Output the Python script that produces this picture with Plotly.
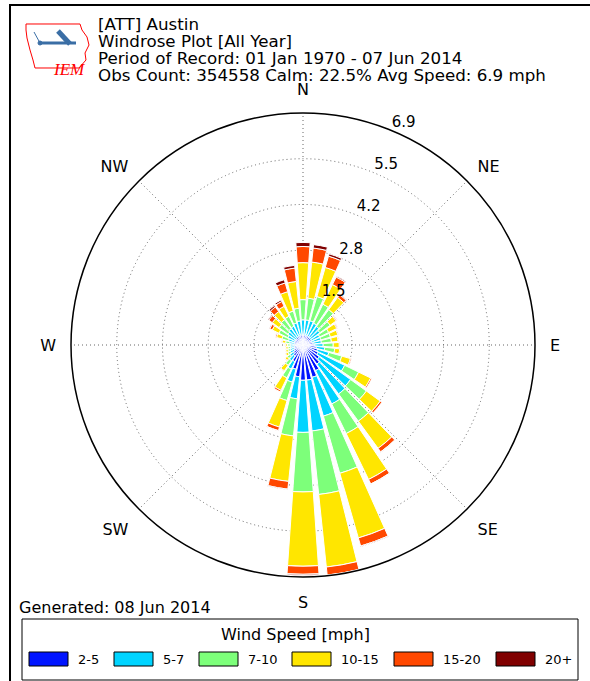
import plotly.graph_objects as go

# ---------------- data ----------------
directions = [0, 10, 20, 30, 40, 50, 60, 70, 80, 90, 100, 110, 120, 130, 140, 150, 160, 170,
              180, 190, 200, 210, 220, 230, 240, 250, 260, 270, 280, 290, 300, 310, 320, 330, 340, 350]

speed_bins = ["2-5", "5-7", "7-10", "10-15", "15-20", "20+"]
bin_colors = ["#0014ff", "#00d4ff", "#7dff7a", "#ffe600", "#ff4800", "#800000"]

# percent frequency per direction for each speed bin (stacked)
pct_2_5 = [0.30, 0.30, 0.30, 0.30, 0.30, 0.28, 0.28, 0.28, 0.30, 0.35, 0.40, 0.45, 0.50, 0.60, 0.70, 0.85, 1.00, 1.05,
           1.05, 0.95, 0.75, 0.55, 0.40, 0.35, 0.30, 0.28, 0.26, 0.26, 0.26, 0.26, 0.26, 0.26, 0.28, 0.28, 0.30, 0.30]
pct_5_7 = [0.45, 0.45, 0.45, 0.42, 0.38, 0.34, 0.27, 0.27, 0.25, 0.25, 0.25, 0.35, 0.88, 1.15, 1.10, 1.10, 1.20, 1.52,
           1.55, 0.66, 0.40, 0.25, 0.18, 0.13, 0.12, 0.12, 0.12, 0.12, 0.14, 0.19, 0.24, 0.29, 0.32, 0.34, 0.38, 0.42]
pct_7_10 = [0.60, 0.65, 0.75, 0.63, 0.62, 0.38, 0.30, 0.30, 0.30, 0.30, 0.30, 0.40, 0.46, 0.58, 1.00, 0.98, 1.77, 1.90,
            1.77, 1.11, 0.57, 0.29, 0.17, 0.10, 0.08, 0.07, 0.07, 0.08, 0.12, 0.20, 0.30, 0.33, 0.33, 0.33, 0.37, 0.38]
pct_10_15 = [1.10, 1.08, 0.90, 0.65, 0.45, 0.22, 0.27, 0.23, 0.20, 0.18, 0.15, 0.27, 0.40, 0.51, 1.00, 1.52, 2.00, 2.17,
             2.21, 1.36, 0.82, 0.41, 0.20, 0.08, 0.08, 0.07, 0.07, 0.07, 0.10, 0.17, 0.22, 0.25, 0.30, 0.33, 0.60, 0.80]
pct_15_20 = [0.48, 0.42, 0.35, 0.25, 0.10, 0.03, 0.03, 0.02, 0.02, 0.02, 0.02, 0.03, 0.04, 0.06, 0.13, 0.15, 0.25, 0.24,
             0.24, 0.23, 0.11, 0.05, 0.02, 0.01, 0.01, 0.01, 0.01, 0.01, 0.02, 0.04, 0.08, 0.13, 0.17, 0.16, 0.27, 0.40]
pct_20p = [0.12, 0.10, 0.07, 0.03, 0.02, 0.01, 0.01, 0.00, 0.00, 0.00, 0.00, 0.00, 0.00, 0.00, 0.01, 0.01, 0.02, 0.02,
           0.03, 0.02, 0.01, 0.00, 0.00, 0.00, 0.00, 0.00, 0.00, 0.00, 0.00, 0.01, 0.02, 0.03, 0.05, 0.05, 0.10, 0.08]

series = [pct_2_5, pct_5_7, pct_7_10, pct_10_15, pct_15_20, pct_20p]

radial_ticks = [1.46, 2.82, 4.18, 5.54, 6.9]
radial_labels = ["1.5", "2.8", "4.2", "5.5", "6.9"]
radial_label_bearing = 22.5
compass_angles = [0, 45, 90, 135, 180, 225, 270, 315]
compass_labels = ["N", "NE", "E", "SE", "S", "SW", "W", "NW"]

title_lines = ["[ATT] Austin",
               "Windrose Plot [All Year]",
               "Period of Record: 01 Jan 1970 - 07 Jun 2014",
               "Obs Count: 354558 Calm: 22.5% Avg Speed: 6.9 mph"]
generated_text = "Generated: 08 Jun 2014"
legend_title = "Wind Speed [mph]"

# ---------------- layout helpers ----------------
W, H = 590, 681
FONT = "DejaVu Sans"


def px(x):
    return x / W


def py(y):
    return 1 - y / H


fig = go.Figure()
for name, vals, col in zip(speed_bins, series, bin_colors):
    fig.add_trace(go.Barpolar(
        r=vals, theta=directions, name=name, width=8, showlegend=False,
        marker=dict(color=col, line=dict(color="white", width=1)),
    ))

# radial labels, anchored bottom-left at each ring (matplotlib style)
fig.add_trace(go.Scatterpolar(
    r=radial_ticks, theta=[radial_label_bearing] * len(radial_ticks), text=radial_labels,
    mode="text", textposition="top right", showlegend=False, hoverinfo="skip",
    textfont=dict(size=15, family=FONT, color="black"), cliponaxis=False,
))

fig.update_layout(
    width=W, height=H,
    margin=dict(l=0, r=0, t=0, b=0),
    paper_bgcolor="white",
    font=dict(family=FONT, size=15, color="black"),
    showlegend=False,
    polar=dict(
        domain=dict(x=[px(71), px(535)], y=[py(577), py(113)]),
        bgcolor="white",
        barmode="stack",
        bargap=0,
        angularaxis=dict(
            rotation=90, direction="clockwise",
            tickmode="array", tickvals=compass_angles, ticktext=compass_labels,
            ticks="outside", ticklen=11, tickcolor="rgba(0,0,0,0)",
            showline=True, linecolor="black", linewidth=1.5,
            showgrid=True, gridcolor="#666666", gridwidth=1, griddash="1px,3px",
            tickfont=dict(size=16, family=FONT),
            layer="above traces",
        ),
        radialaxis=dict(
            range=[0, 6.9],
            tickmode="array", tickvals=radial_ticks,
            showline=False, ticks="", showticklabels=False,
            showgrid=True, gridcolor="#666666", gridwidth=1, griddash="1px,3px",
            layer="above traces",
        ),
    ),
)

# title lines
for i, line in enumerate(title_lines):
    fig.add_annotation(x=px(97), y=py(23.5 + 17.3 * i), xref="paper", yref="paper",
                       text=line, showarrow=False, xanchor="left", yanchor="middle", borderpad=0,
                       font=dict(size=16.7, family=FONT))

fig.add_annotation(x=px(17), y=py(607), xref="paper", yref="paper", text=generated_text,
                   showarrow=False, xanchor="left", yanchor="middle", font=dict(size=16, family=FONT))

# outer frame
fig.add_shape(type="rect", xref="paper", yref="paper", x0=px(10), y0=py(5), x1=1.02, y1=-0.02,
              line=dict(color="black", width=2), fillcolor="rgba(0,0,0,0)", layer="above")

# ---------------- legend (drawn box, swatches and labels) ----------------
fig.add_shape(type="rect", xref="paper", yref="paper", x0=px(22), y0=py(619), x1=px(578), y1=py(680),
              line=dict(color="black", width=1), fillcolor="white")
fig.add_annotation(x=0.5, y=py(634), xref="paper", yref="paper", text=legend_title, showarrow=False,
                   xanchor="center", yanchor="middle", font=dict(size=16, family=FONT))
swatch_left = [29, 114, 199, 292, 394, 496]
for name, col, x0 in zip(speed_bins, bin_colors, swatch_left):
    fig.add_shape(type="rect", xref="paper", yref="paper", x0=px(x0), y0=py(666), x1=px(x0 + 39), y1=py(652),
                  line=dict(color="black", width=1), fillcolor=col)
    fig.add_annotation(x=px(x0 + 47), y=py(659.5), xref="paper", yref="paper", text=name, showarrow=False,
                       xanchor="left", yanchor="middle", font=dict(size=13, family=FONT))

# ---------------- IEM logo (Iowa outline, plane, text) ----------------
iowa = [(26, 24), (80, 24), (82, 30), (87, 37), (89, 45), (85, 53), (86, 60), (79, 68),
        (35, 68), (33, 60), (30, 50), (27, 38), (26, 30)]
path = "M " + " L ".join(f"{px(x):.5f},{py(y):.5f}" for x, y in iowa) + " Z"
fig.add_shape(type="path", xref="paper", yref="paper", path=path, line=dict(color="red", width=1))
plane_blue = "#3a6ea5"
fig.add_shape(type="line", xref="paper", yref="paper", x0=px(40), y0=py(43), x1=px(76), y1=py(43),
              line=dict(color=plane_blue, width=3))
fig.add_shape(type="line", xref="paper", yref="paper", x0=px(58), y0=py(31), x1=px(70), y1=py(44),
              line=dict(color=plane_blue, width=5))
fig.add_shape(type="line", xref="paper", yref="paper", x0=px(34), y0=py(32), x1=px(40), y1=py(43),
              line=dict(color=plane_blue, width=1))
fig.add_shape(type="circle", xref="paper", yref="paper", x0=px(38), y0=py(41), x1=px(42), y1=py(45),
              line=dict(color=plane_blue, width=1), fillcolor=plane_blue)
fig.add_annotation(x=px(51), y=py(58), xref="paper", yref="paper", text="<i>IEM</i>", showarrow=False,
                   font=dict(size=17, family="Liberation Serif", color="red"))

fig.write_html("out.html", config={"displayModeBar": False},
               post_script="document.body.style.margin='0px';")
